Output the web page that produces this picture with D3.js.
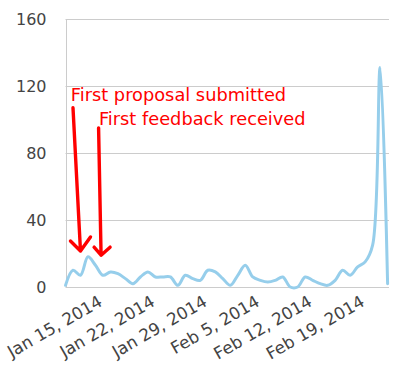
<!DOCTYPE html>
<html>
<head>
<meta charset="utf-8">
<script src="https://cdn.jsdelivr.net/npm/d3@7"></script>
<style>
  html, body { margin: 0; padding: 0; background: #fff; }
  svg { display: block; }
</style>
</head>
<body>
<svg id="chart" width="400" height="380"></svg>
<script>
// ---- data ----
const dates = [
  "2014-01-10","2014-01-11","2014-01-12","2014-01-13","2014-01-14","2014-01-15","2014-01-16",
  "2014-01-17","2014-01-18","2014-01-19","2014-01-20","2014-01-21","2014-01-22","2014-01-23",
  "2014-01-24","2014-01-25","2014-01-26","2014-01-27","2014-01-28","2014-01-29","2014-01-30",
  "2014-01-31","2014-02-01","2014-02-02","2014-02-03","2014-02-04","2014-02-05","2014-02-06",
  "2014-02-07","2014-02-08","2014-02-09","2014-02-10","2014-02-11","2014-02-12","2014-02-13",
  "2014-02-14","2014-02-15","2014-02-16","2014-02-17","2014-02-18","2014-02-19","2014-02-20",
  "2014-02-21","2014-02-22"
];
const values = [
  1, 10, 7, 18, 13, 7, 9,
  8, 5, 2, 6, 9, 6, 6,
  6, 1, 7, 5, 4, 10, 9,
  5, 1, 7, 13, 6, 4, 3,
  4, 6, 0, 0, 6, 4, 2,
  1, 4, 10, 7, 12, 15, 25,
  131, 2
];
const xTickDates = ["2014-01-15","2014-01-22","2014-01-29","2014-02-05","2014-02-12","2014-02-19"];
const yTicks = [0, 40, 80, 120, 160];
const annotationTexts = ["First proposal submitted", "First feedback received"];

// ---- drawing ----
(function () {
const parse = d3.timeParse("%Y-%m-%d");
const data = dates.map((d, i) => ({ date: parse(d), value: values[i] }));

const svg = d3.select("#chart");
const pLeft = 65.5, pRight = 387.6, pTop = 19, pBottom = 287;

const x = d3.scaleTime()
  .domain(d3.extent(data, d => d.date))
  .range([pLeft, pRight]);
const y = d3.scaleLinear().domain([0, 160]).range([pBottom, pTop]);

// gridlines
svg.append("g").selectAll("line").data(yTicks).join("line")
  .attr("x1", pLeft).attr("x2", 389)
  .attr("y1", d => Math.round(y(d)) + 0.5).attr("y2", d => Math.round(y(d)) + 0.5)
  .attr("stroke", "#cccccc").attr("stroke-width", 1);

// left axis line
svg.append("line")
  .attr("x1", Math.round(pLeft) + 0.5).attr("x2", Math.round(pLeft) + 0.5)
  .attr("y1", pTop).attr("y2", pBottom + 1)
  .attr("stroke", "#cccccc").attr("stroke-width", 1);

// y labels
svg.append("g").selectAll("text").data(yTicks).join("text")
  .attr("x", 46.5).attr("y", d => y(d))
  .attr("dy", "0.36em")
  .attr("text-anchor", "end")
  .attr("font-family", "DejaVu Sans, Verdana, sans-serif")
  .attr("font-size", 16)
  .attr("fill", "#444")
  .text(d => d);

// x labels
const fmt = d3.timeFormat("%b %-d, %Y");
svg.append("g").selectAll("text").data(xTickDates.map(parse)).join("text")
  .attr("transform", d => `translate(${x(d) + 0.5},305) rotate(-30)`)
  .attr("text-anchor", "end")
  .attr("font-family", "DejaVu Sans, Verdana, sans-serif")
  .attr("font-size", 16.8)
  .attr("fill", "#444")
  .text(d => fmt(d));

// line
const line = d3.line()
  .x(d => x(d.date))
  .y(d => y(d.value))
  .curve(d3.curveCatmullRom.alpha(0.5));
svg.append("path")
  .datum(data)
  .attr("d", line)
  .attr("fill", "none")
  .attr("stroke", "#96ceeb")
  .attr("stroke-width", 3)
  .attr("stroke-linejoin", "round")
  .attr("stroke-linecap", "round");

// annotations (positioned relative to scales)
const dayX = (dateStr, off) => x(d3.timeHour.offset(parse(dateStr), off * 24));
const red = "#ff0000";
const ann = svg.append("g");
ann.append("text")
  .attr("x", dayX("2014-01-10", 0.74)).attr("y", y(110.8))
  .attr("font-family", "DejaVu Sans, Verdana, sans-serif")
  .attr("font-size", 17.8).attr("fill", red)
  .text(annotationTexts[0]);
ann.append("text")
  .attr("x", dayX("2014-01-14", 0.47)).attr("y", y(96.8))
  .attr("font-family", "DejaVu Sans, Verdana, sans-serif")
  .attr("font-size", 17.8).attr("fill", red)
  .text(annotationTexts[1]);

function arrow(tailX, tailY, tipX, tipY, lx, ly, rx, ry) {
  const p = d3.path();
  p.moveTo(tailX, tailY); p.lineTo(tipX, tipY);
  p.moveTo(tipX + lx, tipY + ly); p.lineTo(tipX, tipY); p.lineTo(tipX + rx, tipY + ry);
  ann.append("path").attr("d", p.toString())
    .attr("fill", "none").attr("stroke", red).attr("stroke-width", 3.4)
    .attr("stroke-linecap", "round").attr("stroke-linejoin", "round");
}
arrow(dayX("2014-01-11", 0), y(107), dayX("2014-01-12", 0), y(21.5), -10, -10, 10, -14);
arrow(dayX("2014-01-14", 0.45), y(95), dayX("2014-01-14", 0.75), y(19), -7, -8, 9, -8);
})();
</script>
</body>
</html>
